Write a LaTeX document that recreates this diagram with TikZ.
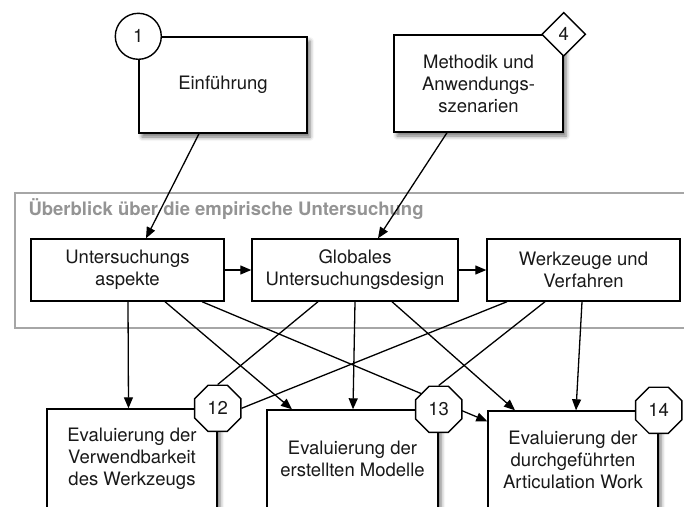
\documentclass[tikz,border=0pt]{standalone}
\usepackage{fontspec}
\setmainfont{TeX Gyre Heros}
\usetikzlibrary{arrows.meta,shapes.geometric,shadows.blur}
\pgfdeclarelayer{top}
\pgfsetlayers{main,top}

\begin{document}
\begin{tikzpicture}[x=1pt,y=-1pt,
  every node/.style={font=\fontsize{18.5}{22}\selectfont, text=black!90, align=center},
  box/.style={draw, fill=white, line width=1.4pt, inner sep=0pt},
  shadowbox/.style={box, blur shadow={shadow xshift=3pt, shadow yshift=-4pt, shadow blur radius=4pt, shadow opacity=55}},
  badge/.style={draw, fill=white, line width=1.4pt, inner sep=0pt},
  link/.style={line width=1.3pt},
  arrow/.style={link, -{Triangle[length=11pt,width=9pt]}},
  group/.style={draw=black!35, line width=1.5pt, inner sep=0pt}
]
\path[use as bounding box] (0,0) rectangle (684,506);

% container with its caption
\node[group, anchor=north west, minimum width=690pt, minimum height=135pt] (grp) at (14,192) {};
\node[anchor=base west, font=\fontsize{18.5}{22}\selectfont\bfseries, text=black!42] (title) at (25,215)
  {Überblick über die empirische Untersuchung};

% chapters feeding the overview
\node[shadowbox, minimum width=168pt, minimum height=96pt] (E) at (223,85) {Einführung};
\node[shadowbox, minimum width=169pt, minimum height=97pt] (M) at (478.5,83.5) {Methodik und\\Anwendungs-\\szenarien};

% overview row
\node[box, minimum width=193pt, minimum height=62pt] (U) at (127.5,270) {Untersuchungs\\aspekte};
\node[box, minimum width=206pt, minimum height=62pt] (G) at (355,270) {Globales\\Untersuchungsdesign};
\node[box, minimum width=193pt, minimum height=62pt] (W) at (583.5,270) {Werkzeuge und\\Verfahren};

% evaluation chapters
\node[shadowbox, minimum width=170pt, minimum height=99pt] (B12) at (132,458.5) {Evaluierung der\\Verwendbarkeit\\des Werkzeugs};
\node[shadowbox, minimum width=171pt, minimum height=98pt] (B13) at (352.5,459) {Evaluierung der\\erstellten Modelle};
\node[shadowbox, minimum width=170pt, minimum height=97pt] (B14) at (573,459.5) {Evaluierung der\\durchgeführten\\Articulation Work};

% chapter numbers
\begin{pgfonlayer}{top}
\node[badge, circle, minimum size=46pt] (c1) at (E.north west) {1};
\node[badge, diamond, minimum size=44pt] (d4) at (M.north east) {4};
\node[badge, regular polygon, regular polygon sides=8, minimum size=50pt] (o12) at (B12.north east) {12};
\node[badge, regular polygon, regular polygon sides=8, minimum size=50pt] (o13) at (B13.north east) {13};
\node[badge, regular polygon, regular polygon sides=8, minimum size=50pt] (o14) at (B14.north east) {14};
\end{pgfonlayer}

% connectors
\draw[arrow] ([xshift=-24pt]E.south) -- ([xshift=18.5pt]U.north);
\draw[arrow] ([xshift=-31.5pt]M.south) -- ([xshift=23pt]G.north);
\draw[arrow] (U) -- (G);
\draw[arrow] (G) -- (W);

\draw[arrow] ([xshift=0.5pt]U.south) -- ([xshift=-3.5pt]B12.north);
\draw[arrow] ([xshift=37.5pt]U.south) -- ([xshift=-60.5pt]B13.north);
\draw[arrow] ([xshift=74.5pt]U.south) -- ([yshift=-11pt]B14.north west);

\draw[link] ([xshift=-37pt]G.south) -- (o12.north);
\draw[arrow] (G.south) -- ([xshift=0.5pt]B13.north);
\draw[arrow] ([xshift=37pt]G.south) -- ([xshift=-58pt]B14.north);

\draw[link] ([xshift=-76.5pt]W.south) -- (o12.east);
\draw[link] ([xshift=-38.5pt]W.south) -- (o13.north);
\draw[arrow] ([xshift=-1.5pt]W.south) -- ([xshift=3pt]B14.north);
\end{tikzpicture}
\end{document}
